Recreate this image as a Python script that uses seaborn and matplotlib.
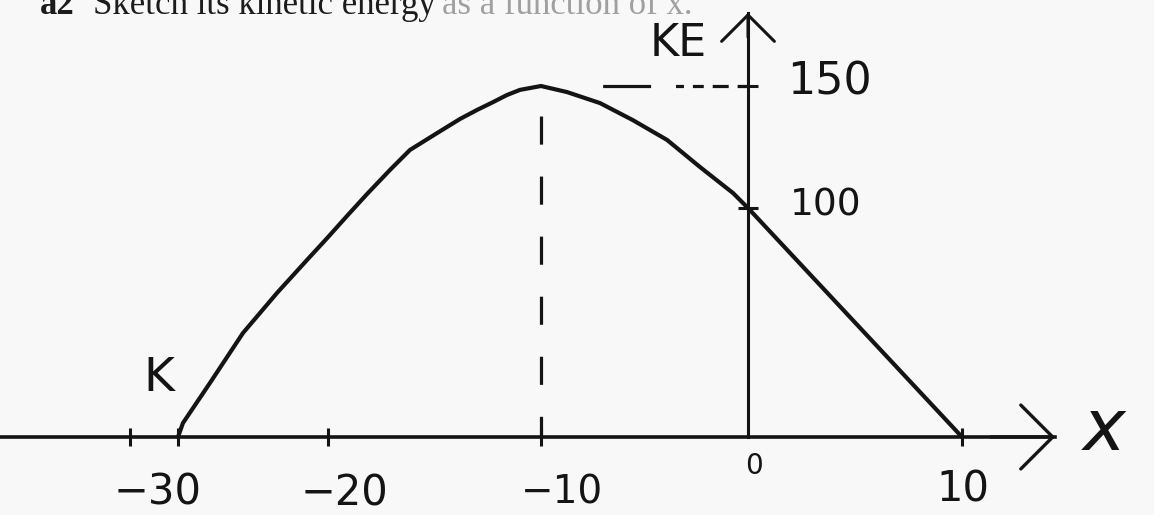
import numpy as np
import pandas as pd
import matplotlib
matplotlib.use("Agg")
import matplotlib.pyplot as plt
import seaborn as sns

# Kinetic energy KE of the body against its position x
pos_x = [-30, -29.67, -27.87, -25.67, -23.4, -21.4, -20.05, -19.11, -18.17,
         -17.09, -16.15, -14.88, -13.8, -13.0, -12.25, -11.6, -10.99, -10,
         -8.74, -7.15, -5.56, -3.91, -2.32, -0.72, 0, 10]
kinetic = [0, 6.1, 23.6, 45.4, 62.9, 77.3, 86.9, 96.5, 105.7,
           115.6, 123.8, 130.7, 136.5, 140.2, 143.4, 146.3, 148.4, 150,
           147.5, 143, 136, 127.9, 116.8, 106.1, 100, 0]

x_ticks = [-30, -20, -10, 0, 10]
x_tick_labels = ["−30", "−20", "−10", "0", "10"]
x_stray_ticks = [-33.2]
ke_ticks = [100, 150]
ke_tick_labels = ["100", "150"]
peak_x, peak_ke = -10, 150
x_tip, ke_tip = 14.35, 180

# hand-spaced axes: piecewise-linear scales (data value -> pixel along axis)
X_KNOTS = ([-60, -30, -20, -10, 0, 10, 40], [-272, 178, 328, 541, 748, 962, 1604])
Y_KNOTS = ([-200, 0, 100, 150, 400], [-380, 78, 307, 429, 1039])


def make_scale(knots):
    d, p = np.asarray(knots[0], float), np.asarray(knots[1], float)
    fwd = lambda v: np.interp(v, d, p)
    inv = lambda v: np.interp(v, p, d)
    return fwd, inv


W, H = 1154, 515
ink = "#141414"
paper = "#f8f8f8"

sns.set_theme(style="white", rc={"figure.facecolor": paper, "axes.facecolor": paper})
plt.rcParams["font.family"] = ["DejaVu Sans"]

fig = plt.figure(figsize=(W / 100, H / 100), dpi=100)
ax = fig.add_axes([0, 0, 1, 1])

xf, xi = make_scale(X_KNOTS)
yf, yi = make_scale(Y_KNOTS)
ax.set_xscale("function", functions=(xf, xi))
ax.set_yscale("function", functions=(yf, yi))
ax.set_xlim(float(xi(0)), float(xi(W)))
ax.set_ylim(float(yi(0)), float(yi(H)))

df = pd.DataFrame({"x": pos_x, "KE": kinetic})
sns.lineplot(data=df, x="x", y="KE", sort=False, estimator=None,
             color=ink, lw=3.0, ax=ax, solid_capstyle="round", solid_joinstyle="round")

# axes through the origin
for s in ("top", "right"):
    ax.spines[s].set_visible(False)
ax.spines["bottom"].set_position(("data", 0))
ax.spines["left"].set_position(("data", 0))
ax.spines["bottom"].set_bounds(float(xi(0)), x_tip)
ax.spines["left"].set_bounds(0, ke_tip)
ax.spines["bottom"].set_linewidth(2.6)
ax.spines["left"].set_linewidth(2.2)
ax.spines["bottom"].set_color(ink)
ax.spines["left"].set_color(ink)

ax.set_xticks([t for t in x_ticks if t != 0])
ax.set_xticks(x_stray_ticks, minor=True)
ax.set_yticks(ke_ticks)
ax.yaxis.set_minor_locator(matplotlib.ticker.NullLocator())
ax.tick_params(axis="x", which="both", direction="inout", length=13, width=2.2,
               color=ink, labelbottom=False, bottom=True)
ax.tick_params(axis="y", direction="inout", length=14, width=2.2,
               color=ink, labelleft=False, left=True)
ax.set_xlabel("")
ax.set_ylabel("")
ax.grid(False)

# arrowheads
ax.annotate("", xy=(x_tip, 0), xytext=(x_tip - 3, 0),
            arrowprops=dict(arrowstyle="->,head_length=1.0,head_width=1.0",
                            lw=2.4, color=ink, mutation_scale=23,
                            shrinkA=0, shrinkB=0))
ax.annotate("", xy=(0, ke_tip), xytext=(0, ke_tip - 10),
            arrowprops=dict(arrowstyle="->,head_length=1.0,head_width=1.0",
                            lw=2.2, color=ink, mutation_scale=19,
                            shrinkA=0, shrinkB=0))

# construction lines to the maximum
ax.plot([peak_x, peak_x], [peak_ke, 0], color=ink, lw=2.3,
        ls=(9.4, (8.8, 10)))
ax.plot([0, peak_x], [peak_ke, peak_ke], color=ink, lw=2.3,
        ls=(0, (3.4, 2.8, 5, 2.8, 3.4, 2.8, 2.5, 7.8, 15, 62)))

# hand-written labels
hand = dict(color=ink, ha="center", va="center", textcoords="offset points",
            family="DejaVu Sans")
offsets = {"−30": (-15, -40), "−20": (12, -41), "−10": (15, -40),
           "0": (4, -21), "10": (1, -38)}
sizes = {"−30": 30, "−20": 30, "−10": 28, "0": 20, "10": 30}
for t, lab in zip(x_ticks, x_tick_labels):
    ax.annotate(lab, xy=(t, 0), xytext=offsets[lab], fontsize=sizes[lab], **hand)
ke_off = {"100": (56, 2), "150": (59, 3)}
ke_size = {"100": 27, "150": 32}
for t, lab in zip(ke_ticks, ke_tick_labels):
    ax.annotate(lab, xy=(0, t), xytext=ke_off[lab], fontsize=ke_size[lab], **hand)
ax.annotate("K", xy=(pos_x[0], kinetic[0]), xytext=(-14, 42), fontsize=34, **hand)
ax.annotate("KE", xy=(0, ke_tip), xytext=(-50, -22), fontsize=32, **hand)
ax.annotate("$x$", xy=(x_tip, 0), xytext=(36, 5), fontsize=52, **hand)

# question heading, partly cut by the top edge
base = 1 - 14 / H
fig.text(40 / W, base, "a2", family="Liberation Serif", weight="bold",
         fontsize=25, color="#1c1c1c", va="baseline")
fig.text(93 / W, base, "Sketch its kinetic energy", family="Liberation Serif",
         fontsize=25, color="#1c1c1c", va="baseline")
fig.text(442 / W, base, "as a function of x.", family="Liberation Serif",
         fontsize=25, color="#a0a0a0", va="baseline")

fig.savefig("out.png", dpi=100, facecolor=paper)
